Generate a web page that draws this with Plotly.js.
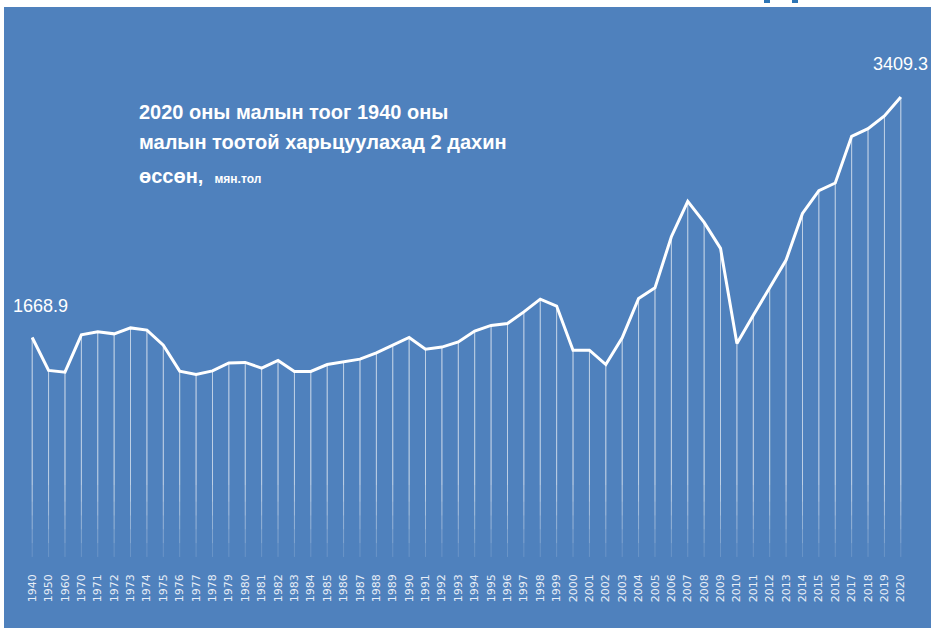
<!DOCTYPE html>
<html>
<head>
<meta charset="utf-8">
<script src="https://cdn.plot.ly/plotly-3.0.1.min.js"></script>
<style>
  html, body { margin: 0; padding: 0; background: #ffffff; width: 931px; height: 628px; overflow: hidden; }
  #chart { position: absolute; left: 4px; top: 7px; width: 927px; height: 621px; }
  .mark { position: absolute; top: 0; height: 3px; background: #2E75B6; }
</style>
</head>
<body>
<div class="mark" style="left:764px;width:6px;"></div>
<div class="mark" style="left:792px;width:6px;"></div>
<div id="chart"></div>
<script>
// Category labels (years)
const years = ['1940','1950','1960','1970','1971','1972','1973','1974','1975','1976','1977','1978','1979',
  '1980','1981','1982','1983','1984','1985','1986','1987','1988','1989','1990','1991','1992','1993',
  '1994','1995','1996','1997','1998','1999','2000','2001','2002','2003','2004','2005','2006','2007',
  '2008','2009','2010','2011','2012','2013','2014','2015','2016','2017','2018','2019','2020'];

// Livestock, thousand heads (мян.тол)
const livestock = [1668.9,1430,1418,1688,1710,1695,1738,1722,1613,1425,1401,1427,1484,
  1488,1447,1502,1423,1423,1473,1490,1512,1557,1611,1669,1584,1599,1636,
  1715,1756,1770,1854,1946,1896,1577,1577,1473,1666,1951,2028,2398,2654,
  2502,2314,1625,1830,2031,2229,2567,2731,2787,3125,3180,3272,3409.3];

// Drop lines fade out towards the bottom: several layered segments
const dropEnds = [80, 180, 280, 380, 480, 600];
const dropAlpha = 0.16;

const dropTraces = dropEnds.map(end => ({
  x: years, y: livestock, type: 'scatter', mode: 'markers',
  marker: {size: 0.1, color: 'rgba(0,0,0,0)'},
  error_y: {type: 'data', symmetric: false, array: livestock.map(() => 0),
    arrayminus: livestock.map(v => v - end), width: 0, thickness: 1,
    color: 'rgba(255,255,255,' + dropAlpha + ')'},
  hoverinfo: 'skip', showlegend: false
}));

const line = {
  x: years, y: livestock, type: 'scatter', mode: 'lines',
  line: {color: '#ffffff', width: 3},
  showlegend: false
};

const titleFont = {family: 'Liberation Sans, Arial, sans-serif', size: 20, color: '#ffffff'};
const labelFont = {family: 'Liberation Sans, Arial, sans-serif', size: 18, color: '#ffffff'};

const last = years.length - 1;

const layout = {
  width: 927, height: 621,
  margin: {l: 20, r: 22, t: 13, b: 60},
  paper_bgcolor: '#4F81BD', plot_bgcolor: '#4F81BD',
  xaxis: {
    type: 'category', showgrid: false, zeroline: false, showline: false, ticks: '',
    tickangle: -90, ticklabelstandoff: 3,
    tickfont: {family: 'DejaVu Sans, sans-serif', size: 11, color: '#e8eef7'},
    range: [-0.5, years.length - 0.5]
  },
  yaxis: {
    range: [0, 3967], showgrid: false, zeroline: false, showline: false,
    showticklabels: false, ticks: ''
  },
  annotations: [
    {xref: 'paper', yref: 'paper', x: 0.1277, y: 0.8314, xanchor: 'left', yanchor: 'middle',
     text: '<b>2020 оны малын тоог 1940 оны</b>', showarrow: false, font: titleFont},
    {xref: 'paper', yref: 'paper', x: 0.1277, y: 0.7765, xanchor: 'left', yanchor: 'middle',
     text: '<b>малын тоотой харьцуулахад 2 дахин</b>', showarrow: false, font: titleFont},
    {xref: 'paper', yref: 'paper', x: 0.1277, y: 0.7160, xanchor: 'left', yanchor: 'middle',
     text: '<b>өссөн,</b>  <b><span style="font-size:12px">мян.тол</span></b>', showarrow: false, font: titleFont},
    {x: 0, y: livestock[0], xref: 'x', yref: 'y', text: String(livestock[0]),
     showarrow: false, xshift: 8, yshift: 31, font: labelFont},
    {x: last, y: livestock[last], xref: 'x', yref: 'y', text: String(livestock[last]),
     showarrow: false, xshift: 0, yshift: 33, font: labelFont}
  ]
};

Plotly.newPlot('chart', dropTraces.concat([line]), layout, {displayModeBar: false, staticPlot: true});
</script>
</body>
</html>
